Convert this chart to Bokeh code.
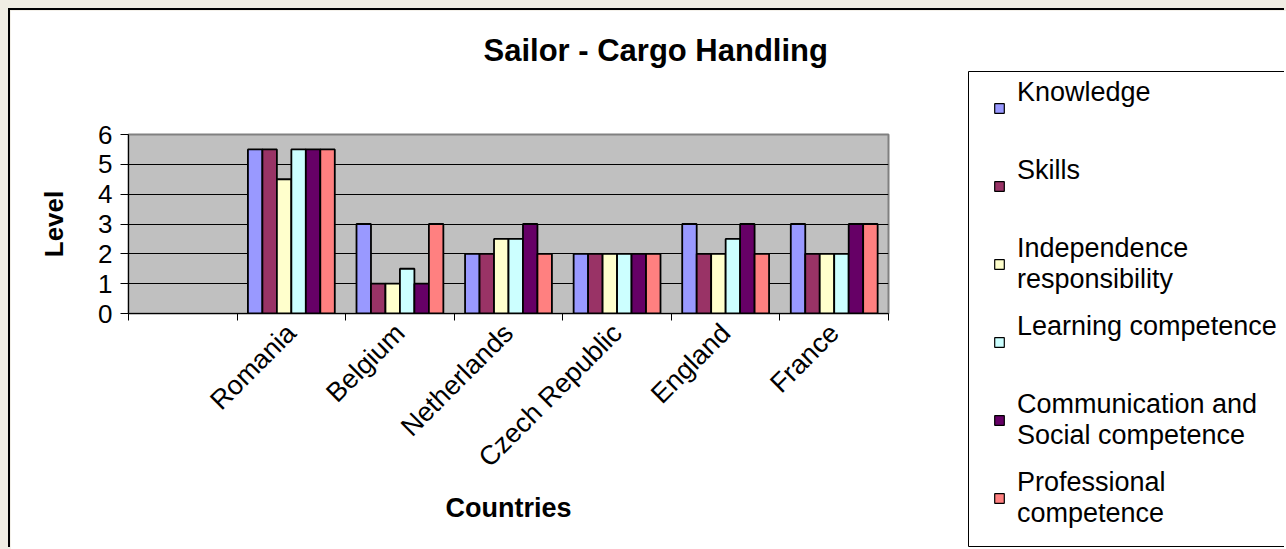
import math
from bokeh.plotting import figure
from bokeh.models import (ColumnDataSource, FixedTicker, Range1d, Legend, LegendItem,
                          CustomJSTickFormatter, Title)
from bokeh.layouts import column
from bokeh.embed import file_html
from bokeh.resources import INLINE

# ---------------- data ----------------
categories = ["", "Romania", "Belgium", "Netherlands", "Czech Republic", "England", "France"]
countries = ["Romania", "Belgium", "Netherlands", "Czech Republic", "England", "France"]
series_names = ["Knowledge", "Skills", "Independence\nresponsibility", "Learning competence",
                "Communication and\nSocial competence", "Professional\ncompetence"]
knowledge = [5.5, 3, 2, 2, 3, 3]
skills = [5.5, 1, 2, 2, 2, 2]
independence = [4.5, 1, 2.5, 2, 2, 2]
learning = [5.5, 1.5, 2.5, 2, 2.5, 2]
communication = [5.5, 1, 3, 2, 3, 3]
professional = [5.5, 3, 2, 2, 2, 3]
series_values = [knowledge, skills, independence, learning, communication, professional]
colors = ["#9999ff", "#993366", "#ffffcc", "#ccffff", "#660066", "#ff8080"]
y_ticks = [0, 1, 2, 3, 4, 5, 6]

FONT = "Liberation Sans"
ZW = "\u200b"  # invisible filler line: every legend entry then takes two lines

# ---------------- main chart ----------------
p = figure(width=1276, height=539, x_range=Range1d(0, len(categories)), y_range=Range1d(0, 6),
           output_backend="svg", toolbar_location=None,
           min_border_left=118, min_border_right=398, min_border_top=124, min_border_bottom=236,
           background_fill_color="#c0c0c0", border_fill_color="white")
p.margin = (10, 0, 0, 10)
p.styles = {"box-shadow": "-2px -2px 0 0 #000000"}

# legend box (its own small svg figure, laid over the right part of the chart area)
pl = figure(width=319, height=477, x_range=Range1d(0, 1), y_range=Range1d(0, 1), title=None,
            output_backend="svg", toolbar_location=None, x_axis_type=None, y_axis_type=None,
            min_border_left=1, min_border_right=0, min_border_top=1, min_border_bottom=1,
            background_fill_color="white", border_fill_color="white")
pl.xgrid.visible = False
pl.ygrid.visible = False
pl.outline_line_color = "black"
pl.outline_line_width = 1
pl.styles = {"position": "absolute", "left": "967px", "top": "70px",
             "clip-path": "inset(0px 2px 0px 0px)"}

n_series = len(series_values)
bw = 1.0 / (n_series + 1.5)
items = []
for j, (name, vals, col) in enumerate(zip(series_names, series_values, colors)):
    xs = [categories.index(c) + 0.5 + (j - (n_series - 1) / 2) * bw for c in countries]
    src = ColumnDataSource(dict(x=xs, top=vals))
    p.vbar(x="x", top="top", bottom=0, width=bw, source=src, fill_color=col,
           line_color="black", line_width=1.8)
    rl = pl.vbar(x="x", top="top", bottom=0, width=bw, source=src, fill_color=col,
                 line_color="black", line_width=1.2, visible=False)
    label = name if "\n" in name else name + "\n" + ZW
    items.append(LegendItem(label=label, renderers=[rl]))

# title (a blank spacer title keeps it well above the plot area)
p.add_layout(Title(text=" ", text_font_size="10px", standoff=49), "above")
p.title.text = "Sailor - Cargo Handling"
p.title.text_font = FONT
p.title.text_font_size = "31px"
p.title.text_font_style = "bold"
p.title.text_color = "black"
p.title.align = "left"
p.title.offset = 355
p.title.standoff = 10

# y axis
yax = p.yaxis[0]
yax.ticker = FixedTicker(ticks=y_ticks)
yax.major_label_text_font = FONT
yax.major_label_text_font_size = "26px"
yax.major_label_text_color = "black"
yax.major_tick_out = 8
yax.major_tick_in = 0
yax.minor_tick_out = 0
yax.minor_tick_in = 0
yax.major_label_standoff = 8
yax.axis_line_color = "black"
yax.major_tick_line_color = "black"
yax.axis_label = "Level"
yax.axis_label_text_font = FONT
yax.axis_label_text_font_size = "26px"
yax.axis_label_text_font_style = "bold"
yax.axis_label_text_color = "black"
yax.axis_label_standoff = 26

# x axis
xax = p.xaxis[0]
xax.ticker = FixedTicker(ticks=[i + 0.5 for i in range(len(categories))],
                         minor_ticks=list(range(len(categories) + 1)))
xax.formatter = CustomJSTickFormatter(args=dict(labels=categories),
                                      code="return labels[Math.floor(tick)];")
xax.major_label_orientation = math.pi / 4
xax.major_label_text_font = FONT
xax.major_label_text_font_size = "27px"
xax.major_label_text_color = "black"
xax.major_tick_out = 0
xax.major_tick_in = 0
xax.minor_tick_out = 7
xax.minor_tick_in = 0
xax.minor_tick_line_color = "black"
xax.axis_line_color = "black"
xax.major_label_standoff = 8
xax.axis_label = "Countries"
xax.axis_label_text_font = FONT
xax.axis_label_text_font_size = "27px"
xax.axis_label_text_font_style = "bold"
xax.axis_label_text_color = "black"
xax.axis_label_standoff = 7

# grid / frame
p.xgrid.visible = False
p.ygrid.ticker = FixedTicker(ticks=y_ticks)
p.ygrid.grid_line_color = "black"
p.ygrid.grid_line_width = 1
p.outline_line_color = "#808080"
p.outline_line_width = 2

# legend
legend = Legend(items=items, location=(25, 9))
legend.label_text_font = FONT
legend.label_text_font_size = "27px"
legend.label_text_color = "black"
legend.glyph_width = 12
legend.glyph_height = 12
legend.label_standoff = 12
legend.padding = 0
legend.margin = 0
legend.spacing = 0
legend.label_height = 78
legend.border_line_color = None
legend.background_fill_alpha = 0
pl.add_layout(legend)

root = column(p, width=1286, height=549, styles={"background-color": "#f0ede3"})

open("out.html", "w").write(file_html([root, pl], INLINE))
